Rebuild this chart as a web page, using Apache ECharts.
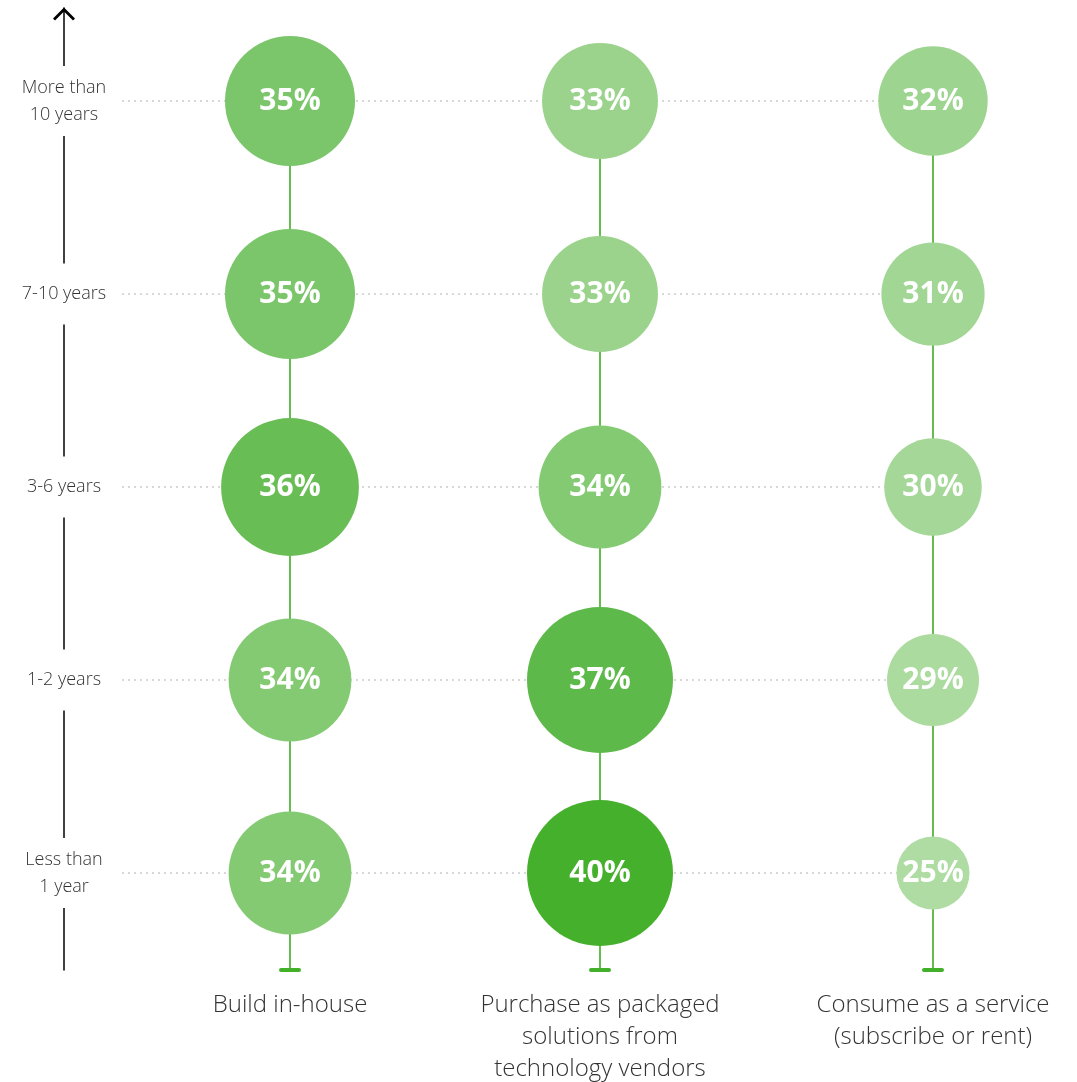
<!DOCTYPE html>
<html>

<head>
    <meta charset="utf-8">
    <title>Tenure vs sourcing approach</title>
    <script src="https://cdn.jsdelivr.net/npm/echarts/dist/echarts.min.js"></script>
    <style>
        * {
            margin: 0;
            padding: 0;
        }

        #main {
            width: 1077px;
            height: 1082px;
        }
    </style>
</head>

<body>
    <div id="main"></div>
    <script>
        // rows, bottom to top
        var tenures = ['Less than\n1 year', '1-2 years', '3-6 years', '7-10 years', 'More than\n10 years'];
        var approaches = ['Build in-house', 'Purchase as packaged\nsolutions from\ntechnology vendors', 'Consume as a service\n(subscribe or rent)'];
        // % per tenure row, same order as tenures
        var buildInHouse = [34, 34, 36, 35, 35];
        var purchasePackaged = [40, 37, 34, 33, 33];
        var consumeService = [25, 29, 30, 31, 32];
        var columns = [buildInHouse, purchasePackaged, consumeService];

        var FONT = 'Open Sans';
        var colCenters = [290, 600, 933];   // column centres (px)

        // greens, lighter for smaller shares
        var shade = {
            25: '#aedca2', 29: '#abdb9f', 30: '#a5d898', 31: '#a1d694', 32: '#9dd48f',
            33: '#9bd38c', 34: '#84ca72', 35: '#7bc66a', 36: '#68be54', 37: '#5db949', 40: '#44b02b'
        };
        function bubbleSize(v) {
            return Math.min(146, 73 * Math.pow(2, (v - 25) / 12));
        }

        var chart = echarts.init(document.getElementById('main'));

        var grids = [
            { left: 122, right: 144, top: 101, bottom: 209, outerBoundsMode: 'none' },   // dotted rows + labels
            { left: 64, width: 10, top: 8, bottom: 112, outerBoundsMode: 'none' }        // black arrow line
        ];
        var xAxes = [
            { gridIndex: 0, type: 'value', show: false },
            { gridIndex: 1, type: 'value', show: false }
        ];
        var yAxes = [
            {
                gridIndex: 0,
                type: 'category',
                boundaryGap: false,
                z: 3,
                data: tenures.map(function (t) {
                    var lines = t.split('\n').length;
                    // item styles don't inherit align, so repeat it here
                    return { value: t, textStyle: { align: 'center', padding: lines > 1 ? [8, 4] : [17, 4] } };
                }),
                axisLine: { show: false },
                axisTick: { show: false },
                axisLabel: {
                    margin: 58, align: 'center', fontSize: 18, lineHeight: 27,
                    color: '#333', fontFamily: FONT, fontWeight: 300, backgroundColor: '#fff'
                },
                splitLine: { show: true, lineStyle: { color: '#cccccc', width: 1.5, type: [2, 4] } }
            },
            {
                gridIndex: 1,
                type: 'value',
                z: 1,
                axisLine: {
                    show: true,
                    symbol: ['none', 'path://M0,10 L10,0 L20,10 L18.2,11.8 L10,3.6 L1.8,11.8 Z'],
                    symbolSize: [22, 13],
                    symbolOffset: [0, -6],
                    lineStyle: { color: '#000', width: 1.5 }
                },
                axisTick: { show: false },
                axisLabel: { show: false },
                splitLine: { show: false }
            }
        ];
        var series = [];

        columns.forEach(function (vals, i) {
            var g = grids.length;
            grids.push({ left: colCenters[i] - 9, width: 18, top: 101, bottom: 112.5, outerBoundsMode: 'none' });
            // x axis line = the small cap, its label = column title
            xAxes.push({
                gridIndex: g,
                type: 'category',
                data: [approaches[i]],
                z: 4,
                axisLine: { onZero: false, lineStyle: { color: '#43b02a', width: 4 } },
                axisTick: { show: false },
                axisLabel: {
                    interval: 0, margin: 20, fontSize: 24, lineHeight: 32,
                    color: '#333', fontFamily: FONT, fontWeight: 300
                }
            });
            // y axis line = the vertical green stem
            yAxes.push({
                gridIndex: g,
                type: 'value',
                min: -0.5,
                max: 4,
                offset: -9,
                z: 4,
                axisLine: { show: true, onZero: false, lineStyle: { color: '#66bd4f', width: 2 } },
                axisTick: { show: false },
                axisLabel: { show: false },
                splitLine: { show: false }
            });
            series.push({
                type: 'scatter',
                xAxisIndex: g,
                yAxisIndex: g,
                z: 5,
                clip: false,
                data: vals.map(function (v, j) { return [0, j, v]; }),
                symbolSize: function (d) { return bubbleSize(d[2]); },
                itemStyle: { opacity: 1, color: function (p) { return shade[p.value[2]]; } },
                label: {
                    show: true,
                    position: 'inside',
                    formatter: function (p) { return p.value[2] + '%'; },
                    color: '#fff',
                    fontSize: 30,
                    fontWeight: 'bold',
                    fontFamily: FONT
                },
                emphasis: { disabled: true }
            });
        });

        chart.setOption({
            animation: false,
            backgroundColor: '#fff',
            grid: grids,
            xAxis: xAxes,
            yAxis: yAxes,
            series: series
        });
    </script>
</body>

</html>
